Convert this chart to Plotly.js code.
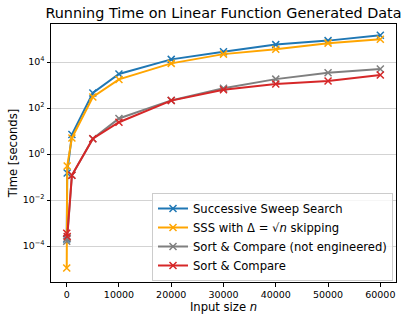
<!DOCTYPE html>
<html>
<head>
<meta charset="utf-8">
<script src="https://cdn.plot.ly/plotly-3.0.1.min.js"></script>
<style>html,body{margin:0;padding:0;background:#fff;}#chart{width:411px;height:321px;}</style>
</head>
<body>
<div id="chart"></div>
<script>
// Data
const inputSizes = [10, 100, 1000, 5000, 10000, 20000, 30000, 40000, 50000, 60000];
const sssTimes      = [2e-4, 0.15, 7, 450, 3000, 13000, 28000, 57000, 85000, 145000];
const sssSkipTimes  = [1.1e-5, 0.3, 5, 300, 1750, 8700, 22000, 36000, 66000, 97000];
const sortNotEngTimes = [1.6e-4, 2.2e-4, 0.12, 4.6, 35, 215, 720, 1800, 3400, 5000];
const sortTimes     = [3.6e-4, 2.6e-4, 0.12, 4.6, 24, 210, 620, 1100, 1500, 2700];
const seriesNames = ["Successive Sweep Search",
  "SSS with Δ = √<i>n</i> skipping",
  "Sort &amp; Compare (not engineered)",
  "Sort &amp; Compare"];
const xTickVals = [0, 10000, 20000, 30000, 40000, 50000, 60000];
const xTickText = ["0", "10000", "20000", "30000", "40000", "50000", "60000"];
const yTickVals = [1e-4, 1e-2, 1, 1e2, 1e4];
const yTickText = ["10<sup>−4</sup>", "10<sup>−2</sup>", "10<sup>0</sup>", "10<sup>2</sup>", "10<sup>4</sup>"];

const colors = ["#1f77b4", "#ffa500", "#7f7f7f", "#d62728"];
const series = [sssTimes, sssSkipTimes, sortNotEngTimes, sortTimes];

const traces = series.map((ys, i) => ({
  x: inputSizes, y: ys, name: seriesNames[i], type: "scatter", mode: "lines+markers",
  line: {color: colors[i], width: 2},
  marker: {symbol: "x-thin", size: 7, line: {color: colors[i], width: 1.5}, color: colors[i]}
}));

const font = "DejaVu Sans, sans-serif";
const layout = {
  width: 411, height: 321,
  margin: {l: 51, r: 15, t: 24, b: 39},
  paper_bgcolor: "#fff", plot_bgcolor: "#fff",
  font: {family: font, color: "#000", size: 9.5},
  title: {text: "Running Time on Linear Function Generated Data", font: {family: font, size: 14.4, color: "#000"},
          x: 0.5, xref: "paper", xanchor: "center", y: 1 - 13/321, yref: "container", yanchor: "middle"},
  xaxis: {
    range: [-3000, 63000], tickvals: xTickVals, ticktext: xTickText,
    showgrid: false, zeroline: false, showline: true, mirror: true, linecolor: "#000", linewidth: 1,
    ticks: "outside", ticklen: 3.5, tickwidth: 1, tickcolor: "#000",
    tickfont: {family: font, size: 9.5, color: "#000"},
    title: {text: "Input size <i>n</i>", font: {family: font, size: 11.6, color: "#000"}, standoff: 3}
  },
  yaxis: {
    type: "log", range: [-5.565, 5.652], tickvals: yTickVals, ticktext: yTickText,
    showgrid: true, gridcolor: "#d3d3d3", gridwidth: 1, zeroline: false,
    showline: true, mirror: true, linecolor: "#000", linewidth: 1,
    ticks: "outside", ticklen: 3.5, tickwidth: 1, tickcolor: "#000",
    tickfont: {family: font, size: 9.5, color: "#000"},
    title: {text: "Time [seconds]", font: {family: font, size: 11.6, color: "#000"}, standoff: 2}
  },
  legend: {
    x: (393 - 51) / 345, xanchor: "right", y: (282 - 281) / 258, yanchor: "bottom",
    bgcolor: "rgba(255,255,255,0.8)", bordercolor: "#cccccc", borderwidth: 1,
    font: {family: font, size: 11.6, color: "#000"}, tracegroupgap: 0
  },
  showlegend: true
};

Plotly.newPlot("chart", traces, layout, {staticPlot: true, displayModeBar: false});
</script>
</body>
</html>
